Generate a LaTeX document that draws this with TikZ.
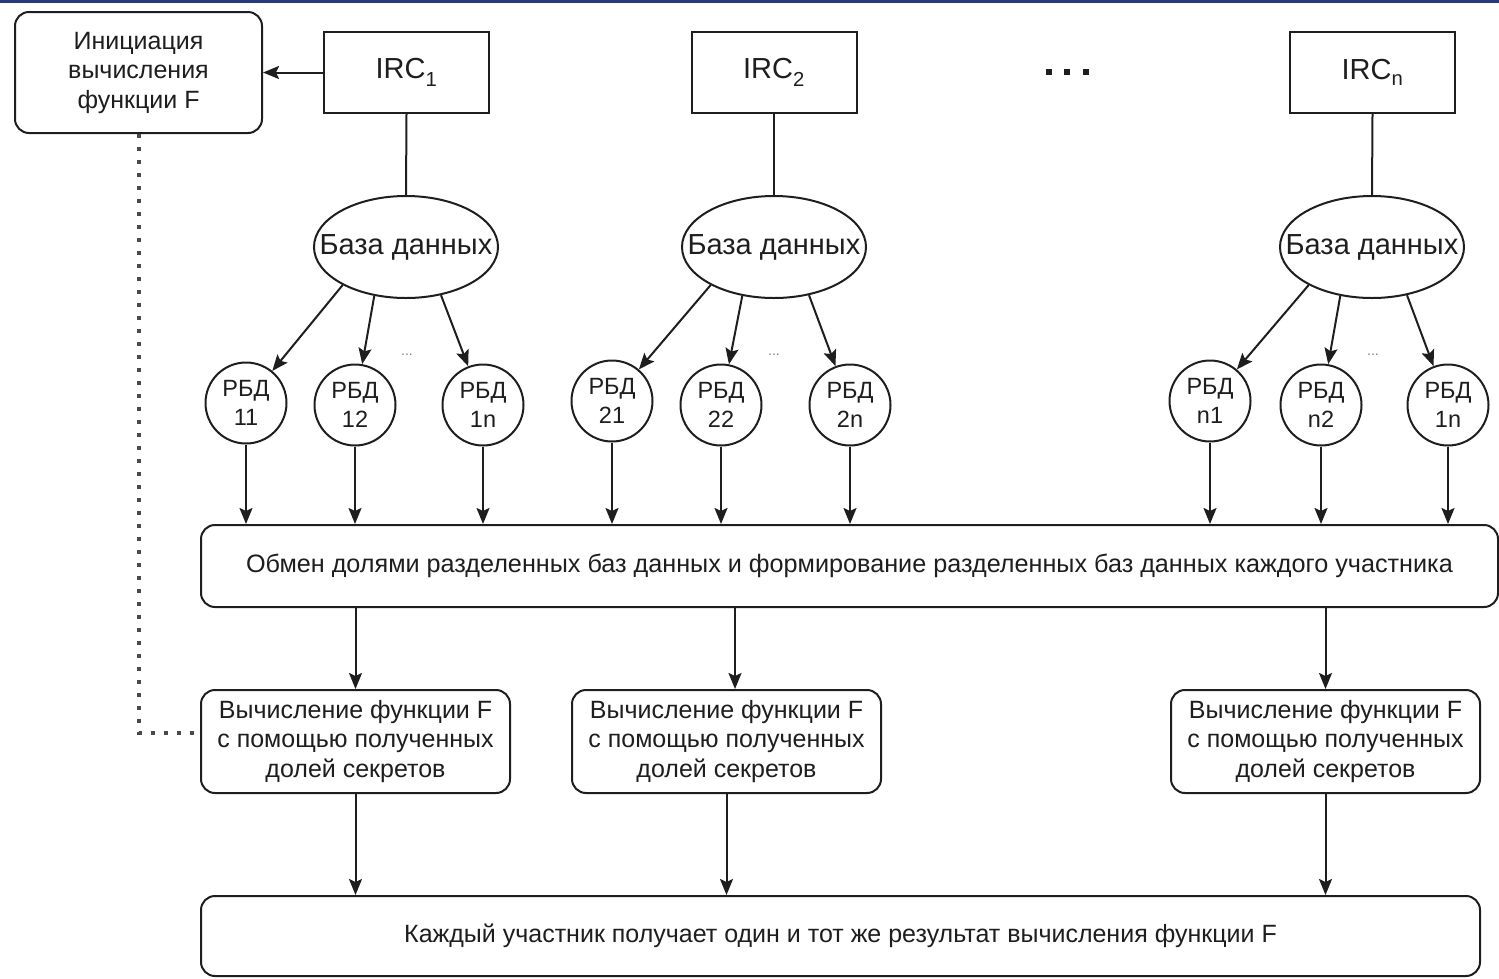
\documentclass[tikz,border=0pt]{standalone}
\usepackage{fontspec}
\setmainfont{Liberation Sans}
\usetikzlibrary{arrows.meta,shapes.geometric,calc}
\definecolor{ink}{HTML}{1E1E1E}
\definecolor{topbar}{HTML}{2B3A7E}
\definecolor{dotgray}{HTML}{4A4A4A}

\begin{document}
\begin{tikzpicture}[x=1pt,y=-1pt,
  lw/.style={draw=ink, line width=2pt},
  txt/.style={text=ink, inner sep=0pt, align=center},
  rbox/.style={lw, txt, rounded corners=14pt, fill=white},
  ircbox/.style={lw, txt, minimum width=165pt, minimum height=81pt, font=\fontsize{29}{34}\selectfont},
  dbell/.style={lw, ellipse, minimum width=184pt, minimum height=102pt, inner sep=0pt},
  dbtxt/.style={txt, font=\fontsize{29}{34}\selectfont},
  rbd/.style={lw, txt, circle, minimum size=81pt, font=\fontsize{23.5}{29}\selectfont},
  midtxt/.style={font=\fontsize{25}{29.5}\selectfont},
  smalldots/.style={text=gray, inner sep=0pt, font=\fontsize{14}{14}\selectfont},
  arr/.style={lw, -{Stealth[length=16pt,width=13pt,inset=3pt]}},
  dotline/.style={draw=dotgray, line width=4pt, line cap=butt, dash pattern=on 4pt off 9pt}
]
\useasboundingbox (0,0) rectangle (1499,978);
\fill[topbar] (0,0) rectangle (1499,3);

% top row: initiator and participants
\node[rbox, midtxt, minimum width=247pt, minimum height=121pt] (init) at (138.5,72.5)
  {Инициация\\вычисления\\функции F};
\node[ircbox] (irc1) at (406.5,72.5) {IRC\raisebox{-3pt}{\textsubscript{1}}};
\node[ircbox] (irc2) at (774,72.5) {IRC\raisebox{-3pt}{\textsubscript{2}}};
\node[ircbox] (ircn) at (1372.5,72.5) {IRC\raisebox{-3pt}{\textsubscript{n}}};
\node[inner sep=0pt] (gap) at (1067,72)
  {\color{ink}\rule{6pt}{6pt}\hspace{12.5pt}\rule{6pt}{6pt}\hspace{12.5pt}\rule{6pt}{6pt}};

% databases
\node[dbell] (e1) at (406,247) {};
\node[dbell] (e2) at (774,247) {};
\node[dbell] (en) at (1372,247) {};
\node[dbtxt] (t1) at (e1.center) {База данных};
\node[dbtxt] (t2) at (e2.center) {База данных};
\node[dbtxt] (tn) at (en.center) {База данных};

% shares of the databases
\node[rbd] (c11) at (246,403) {РБД\\11};
\node[rbd] (c12) at (355,405) {РБД\\12};
\node[rbd] (c13) at (483,405) {РБД\\1n};
\node[rbd] (c21) at (612,401) {РБД\\21};
\node[rbd] (c22) at (721,405) {РБД\\22};
\node[rbd] (c23) at (850,405) {РБД\\2n};
\node[rbd] (cn1) at (1210,401) {РБД\\n1};
\node[rbd] (cn2) at (1321,405) {РБД\\n2};
\node[rbd] (cn3) at (1448,405) {РБД\\1n};
\node[smalldots] (d1) at (407,355) {...};
\node[smalldots] (d2) at (774,355) {...};
\node[smalldots] (d3) at (1373,355) {...};

% exchange, computation and result
\node[rbox, font=\fontsize{25.2}{30}\selectfont, minimum width=1297pt, minimum height=82pt] (exch) at (849.5,566)
  {Обмен долями разделенных баз данных и формирование разделенных баз данных каждого участника};
\node[rbox, midtxt, minimum width=309pt, minimum height=103pt] (calc1) at (355.5,741.5)
  {Вычисление функции F\\с помощью полученных\\долей секретов};
\node[rbox, midtxt, minimum width=309pt, minimum height=103pt] (calc2) at (726.5,741.5)
  {Вычисление функции F\\с помощью полученных\\долей секретов};
\node[rbox, midtxt, minimum width=309pt, minimum height=103pt] (calc3) at (1325.5,741.5)
  {Вычисление функции F\\с помощью полученных\\долей секретов};
\node[rbox, midtxt, minimum width=1279pt, minimum height=80pt] (final) at (840.5,936)
  {Каждый участник получает один и тот же результат вычисления функции F};

% connectors
\draw[arr] (irc1.west) -- (init.east);
\draw[lw] (irc1.south) -- (e1.north);
\draw[lw] (irc2.south) -- (e2.north);
\draw[lw] (ircn.south) -- (en.north);

\foreach \e/\a/\b/\c in {e1/c11/c12/c13, e2/c21/c22/c23, en/cn1/cn2/cn3}{
  \draw[arr] (\e.211) -- (\a);
  \draw[arr] (\e.237) -- (\b);
  \draw[arr] (\e.306) -- (\c);
  \draw[arr] (\a.south) -- (\a.south |- exch.north);
  \draw[arr] (\b.south) -- (\b.south |- exch.north);
  \draw[arr] (\c.south) -- (\c.south |- exch.north);
}

\coordinate (k2) at (735,0);
\draw[arr] (exch.south -| calc1.north) -- (calc1.north);
\draw[arr] (exch.south -| k2) -- (calc2.north -| k2);
\draw[arr] (exch.south -| calc3.north) -- (calc3.north);

\draw[arr] (calc1.south) -- (calc1.south |- final.north);
\draw[arr] (calc2.south) -- (calc2.south |- final.north);
\draw[arr] (calc3.south) -- (calc3.south |- final.north);

\coordinate (bend) at (138.5,733);
\draw[dotline] (init.south) -- (bend) -- (bend -| calc1.west);
\end{tikzpicture}
\end{document}
